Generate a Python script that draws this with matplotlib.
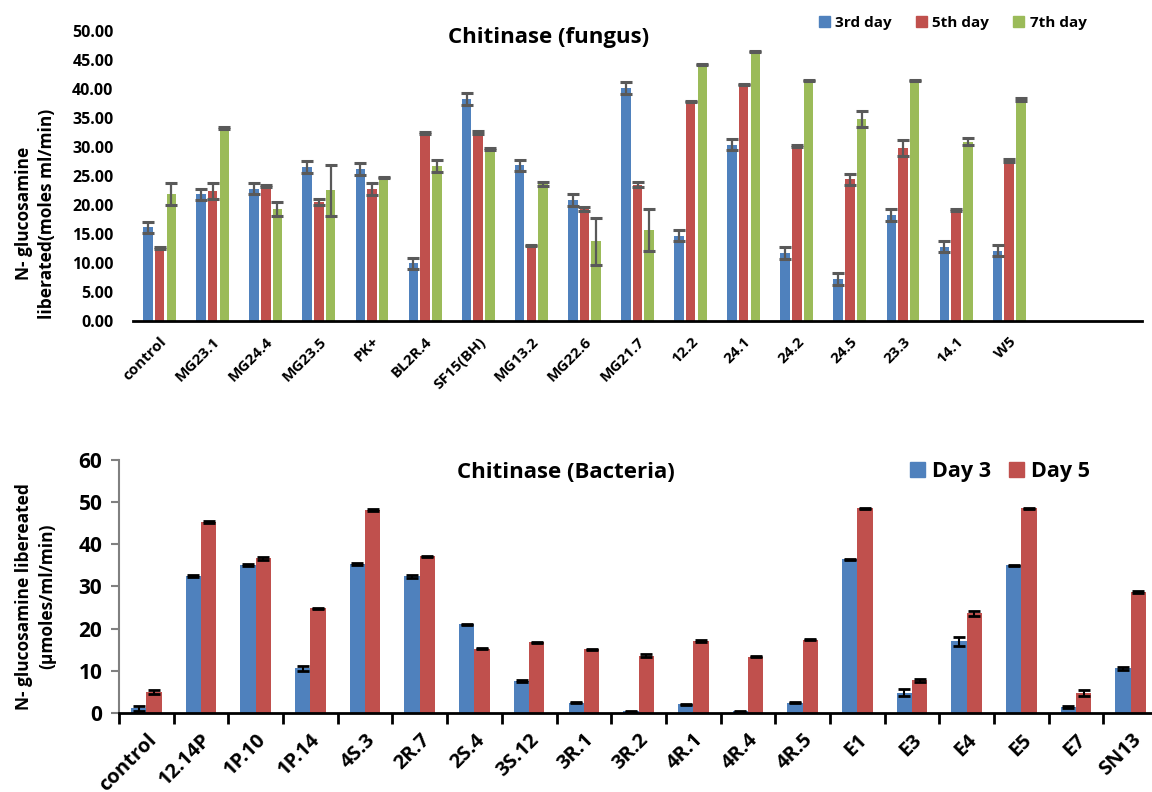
import numpy as np
import matplotlib
matplotlib.use("Agg")
import matplotlib.pyplot as plt
from matplotlib.patches import Patch

plt.rcParams['font.family'] = ['Open Sans', 'DejaVu Sans']
plt.rcParams['font.weight'] = 'bold'

BLUE = '#4F81BD'; RED = '#C0504D'; GREEN = '#9BBB59'

# ---------------- FUNGUS DATA
fungus_labels = ["control", "MG23.1", "MG24.4", "MG23.5", "PK+", "BL2R.4", "SF15(BH)", "MG13.2",
                 "MG22.6", "MG21.7", "12.2", "24.1", "24.2", "24.5", "23.3", "14.1", "W5", "", ""]
f_day3 = [16.1, 21.8, 22.8, 26.5, 26.2, 9.9, 38.3, 26.8, 20.8, 40.1, 14.7, 30.4, 11.7, 7.2, 18.2, 12.8, 12.1]
f_day5 = [12.6, 22.4, 23.3, 20.5, 22.7, 32.4, 32.5, 13.0, 19.3, 23.5, 37.8, 40.7, 30.1, 24.4, 29.8, 19.1, 27.6]
f_day7 = [21.8, 33.2, 19.2, 22.5, 24.7, 26.7, 29.6, 23.6, 13.7, 15.6, 44.2, 46.5, 41.4, 34.8, 41.4, 30.9, 38.2]
f_err3 = [1.0, 1.0, 1.0, 1.0, 1.0, 1.0, 1.0, 1.0, 1.0, 1.0, 1.0, 1.0, 1.0, 1.0, 1.0, 1.0, 1.0]
f_err5 = [0.2, 1.35, 0.2, 0.45, 1.05, 0.2, 0.2, 0.1, 0.35, 0.5, 0.1, 0.1, 0.2, 0.95, 1.3, 0.1, 0.3]
f_err7 = [1.9, 0.2, 1.2, 4.4, 0.1, 1.05, 0.15, 0.35, 4.1, 3.6, 0.1, 0.1, 0.1, 1.45, 0.1, 0.6, 0.3]

# ---------------- BACTERIA DATA
bact_labels = ["control", "12.14P", "1P.10", "1P.14", "4S.3", "2R.7", "2S.4", "3S.12", "3R.1", "3R.2",
               "4R.1", "4R.4", "4R.5", "E1", "E3", "E4", "E5", "E7", "SN13"]
b_day3 = [1.2, 32.4, 35.1, 10.6, 35.3, 32.4, 21.0, 7.6, 2.5, 0.45, 2.1, 0.5, 2.5, 36.4, 4.9, 17.0, 35.0, 1.5, 10.6]
b_day5 = [5.0, 45.3, 36.6, 24.8, 48.0, 37.1, 15.3, 16.8, 15.1, 13.6, 17.1, 13.4, 17.4, 48.5, 7.8, 23.7, 48.5, 4.8, 28.7]
b_err3 = [0.55, 0.2, 0.3, 0.5, 0.2, 0.4, 0.15, 0.15, 0.15, 0.15, 0.15, 0.1, 0.15, 0.15, 0.75, 1.0, 0.15, 0.15, 0.45]
b_err5 = [0.55, 0.2, 0.3, 0.2, 0.2, 0.2, 0.15, 0.15, 0.15, 0.3, 0.15, 0.15, 0.15, 0.1, 0.4, 0.6, 0.1, 0.7, 0.15]

fig = plt.figure(figsize=(11.52, 7.92), dpi=100)

######################################################################
# TOP: FUNGUS
######################################################################
ax1 = fig.add_axes([0.1155, 0.595, 0.8758, 0.366])
x = np.arange(len(f_day3))
w = 0.18; off = 0.22
ekw = dict(ecolor='#595959', elinewidth=1.6, capsize=4.3, capthick=2.2)
ax1.bar(x - off, f_day3, w, color=BLUE, yerr=f_err3, error_kw=ekw, label='3rd day')
ax1.bar(x, f_day5, w, color=RED, yerr=f_err5, error_kw=ekw, label='5th day')
ax1.bar(x + off, f_day7, w, color=GREEN, yerr=f_err7, error_kw=ekw, label='7th day')

ax1.set_xlim(-0.5, len(fungus_labels) - 0.5)
ax1.set_ylim(0, 50)
ax1.set_yticks(np.arange(0, 50.1, 5))
ax1.set_yticklabels(["%.2f" % v for v in np.arange(0, 50.1, 5)], fontsize=11.5, fontweight='bold')
ax1.set_xticks(np.arange(len(fungus_labels)))
ax1.set_xticklabels(fungus_labels, rotation=45, ha='right', rotation_mode='anchor',
                    fontsize=11, fontweight='bold')
ax1.tick_params(axis='both', length=0)
ax1.tick_params(axis='y', pad=14)
ax1.tick_params(axis='x', pad=10)
for s in ['top', 'right', 'left']:
    ax1.spines[s].set_visible(False)
ax1.spines['bottom'].set_linewidth(2)
ax1.set_ylabel("N- glucosamine\nliberated(moles ml/min)", fontsize=12.5, fontweight='bold',
               linespacing=1.4)
ax1.yaxis.set_label_coords(-0.076, 0.37)

fig.text(0.476, 0.953, "Chitinase (fungus)", ha='center', va='center', fontsize=16, fontweight='bold')
fig.legend(handles=[Patch(color=BLUE, label='3rd day'), Patch(color=RED, label='5th day'),
                    Patch(color=GREEN, label='7th day')],
           loc='center', bbox_to_anchor=(0.827, 0.971), ncol=3, frameon=False,
           prop=dict(size=11, weight='bold'), handlelength=0.7, handleheight=0.7,
           handletextpad=0.35, columnspacing=1.6)

######################################################################
# BOTTOM: BACTERIA
######################################################################
ax2 = fig.add_axes([0.1033, 0.0994, 0.902, 0.3204])
xb = np.arange(len(bact_labels))
bw = 0.28
ekw2 = dict(ecolor='black', elinewidth=1.5, capsize=4.3, capthick=2)
ax2.bar(xb - bw / 2, b_day3, bw, color=BLUE, yerr=b_err3, error_kw=ekw2, label='Day 3')
ax2.bar(xb + bw / 2, b_day5, bw, color=RED, yerr=b_err5, error_kw=ekw2, label='Day 5')

ax2.set_xlim(-0.5, len(bact_labels) - 0.5)
ax2.set_ylim(0, 60)
ax2.set_yticks(np.arange(0, 61, 10))
ax2.set_yticklabels([str(v) for v in range(0, 61, 10)], fontsize=15, fontweight='bold')
ax2.set_xticks(xb)
ax2.set_xticklabels(bact_labels, rotation=45, ha='right', rotation_mode='anchor',
                    fontsize=14.5, fontweight='bold')
ax2.set_xticks(np.arange(-0.5, len(bact_labels), 1), minor=True)
ax2.tick_params(axis='x', which='major', length=0, pad=12)
ax2.tick_params(axis='x', which='minor', length=8, width=2, color='black', direction='out')
ax2.tick_params(axis='y', length=6, width=1.5, color='#808080', pad=6)
ax2.spines['top'].set_visible(False)
ax2.spines['right'].set_visible(False)
ax2.spines['left'].set_color('#808080')
ax2.spines['left'].set_linewidth(1.5)
ax2.spines['bottom'].set_linewidth(2)
ax2.set_ylabel("N- glucosamine libereated\n(\u00b5moles/ml/min)", fontsize=12.5, fontweight='bold',
               linespacing=1.4)
ax2.yaxis.set_label_coords(-0.060, 0.46)

fig.text(0.491, 0.404, "Chitinase (Bacteria)", ha='center', va='center', fontsize=16, fontweight='bold')
fig.legend(handles=[Patch(color=BLUE, label='Day 3'), Patch(color=RED, label='Day 5')],
           loc='center', bbox_to_anchor=(0.868, 0.405), ncol=2, frameon=False,
           prop=dict(size=15.5, weight='bold'), handlelength=0.7, handleheight=0.7,
           handletextpad=0.35, columnspacing=0.8)

plt.savefig("out.png", dpi=100)
